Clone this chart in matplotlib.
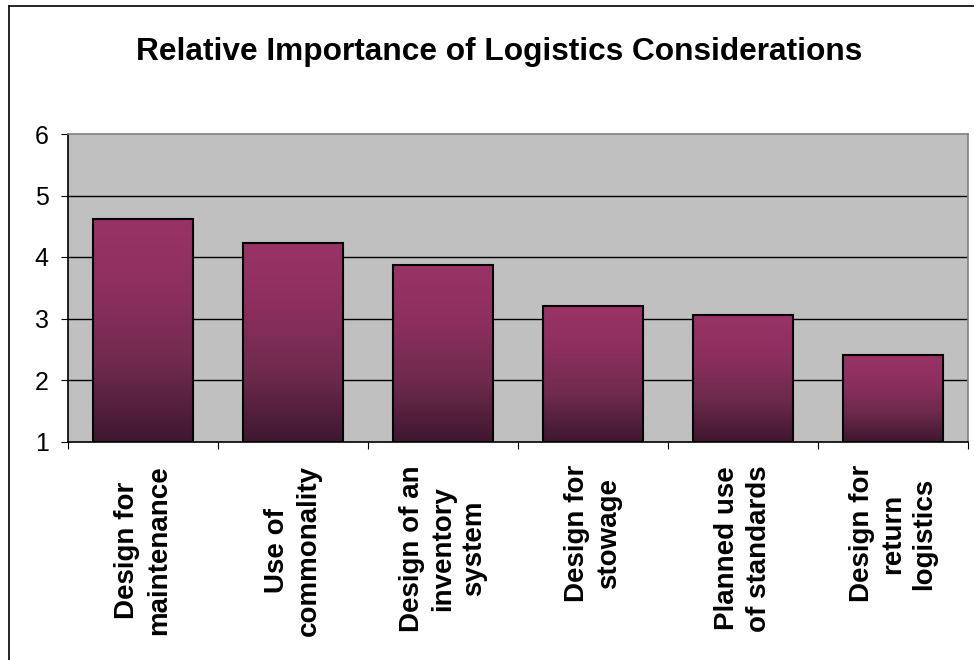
import numpy as np
import matplotlib
matplotlib.use("Agg")
import matplotlib.pyplot as plt
from matplotlib.lines import Line2D
from matplotlib.colors import LinearSegmentedColormap

plt.rcParams['font.family'] = ['Liberation Sans', 'DejaVu Sans']

# data
categories = [
    "Design for\nmaintenance",
    "Use of\ncommonality",
    "Design of an\ninventory\nsystem",
    "Design for\nstowage",
    "Planned use\nof standards",
    "Design for\nreturn\nlogistics",
]
scores = [4.61, 4.22, 3.87, 3.20, 3.05, 2.40]
y_ticks = [1, 2, 3, 4, 5, 6]
title = "Relative Importance of Logistics Considerations"

W, H = 974, 660
fig = plt.figure(figsize=(W / 100, H / 100), dpi=100)

# plot area in pixel terms
left, right, top, bottom = 68, 968, 134, 441.5
ax = fig.add_axes([left / W, 1 - bottom / H, (right - left) / W, (bottom - top) / H])
ax.set_facecolor("#C0C0C0")

# bar fill: dark at the bottom, magenta at the top
cmap = LinearSegmentedColormap.from_list("bar", ["#401730", "#6e2a4c", "#8c2f5e", "#9a3366"])
grad = np.linspace(0, 1, 256).reshape(-1, 1)
width = 100 / 150
for i, v in enumerate(scores):
    x0 = i + 0.5 - width / 2
    ax.imshow(grad, cmap=cmap, origin="lower", aspect="auto",
              extent=[x0, x0 + width, 1, v], zorder=3, interpolation="bilinear")
bars = ax.bar(np.arange(len(scores)) + 0.5, [v - 1 for v in scores], width=width,
              bottom=1, facecolor="none", edgecolor="black", linewidth=1.5, zorder=4)

ax.set_xlim(0, len(categories))
ax.set_ylim(1, 6)

# horizontal gridlines
for y in y_ticks[1:-1]:
    ax.axhline(y, color="black", lw=1.0, zorder=1)

ax.spines["left"].set_color("black")
ax.spines["bottom"].set_color("black")
ax.spines["top"].set_color("#808080")
ax.spines["right"].set_color("#808080")
for s in ax.spines.values():
    s.set_linewidth(1.2)
    s.set_zorder(5)

ax.set_yticks(y_ticks)
ax.set_yticklabels([str(t) for t in y_ticks])
ax.tick_params(axis="y", length=5, width=0.8, pad=9, labelsize=18, direction="out")

# tick marks between categories, labels centred under bars
ax.set_xticks(np.arange(len(categories) + 1))
ax.set_xticklabels([])
ax.tick_params(axis="x", which="major", length=5, width=0.8, direction="out")
ax.set_xticks(np.arange(len(categories)) + 0.5, minor=True)
ax.set_xticklabels(categories, minor=True, rotation=90, fontsize=20,
                   fontweight="bold", va="top", ha="center", linespacing=1.27)
ax.tick_params(axis="x", which="minor", length=0, pad=17)

fig.text(499.5 / W, 1 - 52 / H, title, fontsize=22.8, fontweight="bold",
         ha="center", va="center")

# chart frame
fig.add_artist(Line2D([8.5 / W, 1], [1 - 5.5 / H, 1 - 5.5 / H], color="black", lw=1.2,
                      transform=fig.transFigure))
fig.add_artist(Line2D([8.5 / W, 8.5 / W], [0, 1 - 5.5 / H], color="black", lw=1.2,
                      transform=fig.transFigure))

fig.savefig("out.png", dpi=100, facecolor="white")
